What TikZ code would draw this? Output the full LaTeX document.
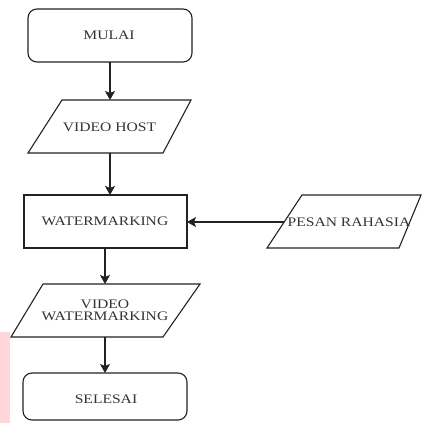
\documentclass[tikz,border=0pt]{standalone}
\usepackage{fontspec}
\setmainfont{Liberation Serif}[FakeStretch=1.2]
\usetikzlibrary{arrows.meta}
\definecolor{linec}{HTML}{222222}
\definecolor{textc}{HTML}{333333}
\definecolor{pinkc}{HTML}{FFD6DA}
\tikzset{
  shapeline/.style={draw=linec, line width=1.1pt, line join=miter},
  lbl/.style={text=textc, font=\fontsize{13}{13}\selectfont, inner sep=0pt, align=center},
  conn/.style={draw=linec, line width=1.1pt, -{Stealth[length=9pt,width=10pt,inset=2pt]}},
  termbox/.style={shapeline, rounded corners=9pt},
}
\begin{document}
\begin{tikzpicture}[x=1pt,y=-1pt]
\useasboundingbox (0,0) rectangle (422,423);
\fill[pinkc] (0,332) rectangle (10,423);
% MULAI
\draw[termbox] (28,9) rectangle (192,62);
\coordinate (mulaiB) at (110,62);
\node[lbl] (mulai) at (109,35.5) {MULAI};
% VIDEO HOST
\draw[shapeline] (62,100) -- (191,100) -- (163,153) -- (28,153) -- cycle;
\coordinate (vhT) at (110,100);
\coordinate (vhB) at (110,153);
\node[lbl] (vh) at (109.5,127) {VIDEO HOST};
% WATERMARKING
\draw[shapeline] (24,195) rectangle (187,248);
\coordinate (wmT) at (110,195);
\coordinate (wmR) at (187,222);
\coordinate (wmB) at (105,248);
\node[lbl] (wm) at (105,221.5) {WATERMARKING};
% PESAN RAHASIA
\draw[shapeline] (302,195) -- (421,195) -- (399,248) -- (267,248) -- cycle;
\coordinate (prL) at (284,222);
\node[lbl] (pr) at (349,222) {PESAN RAHASIA};
% VIDEO WATERMARKING
\draw[shapeline] (43,284) -- (200,284) -- (163,337) -- (11,337) -- cycle;
\coordinate (vwT) at (105,284);
\coordinate (vwB) at (105,337);
\node[lbl] (vw) at (105,310.5) {VIDEO\\[-0.5pt]WATERMARKING};
% SELESAI
\draw[termbox] (23,373) rectangle (187,420);
\coordinate (selT) at (105,373);
\node[lbl] (sel) at (106,399) {SELESAI};
% connectors
\draw[conn] (mulaiB) -- (vhT);
\draw[conn] (vhB) -- (wmT);
\draw[conn] (prL) -- (wmR);
\draw[conn] (wmB) -- (vwT);
\draw[conn] (vwB) -- (selT);
\end{tikzpicture}
\end{document}
